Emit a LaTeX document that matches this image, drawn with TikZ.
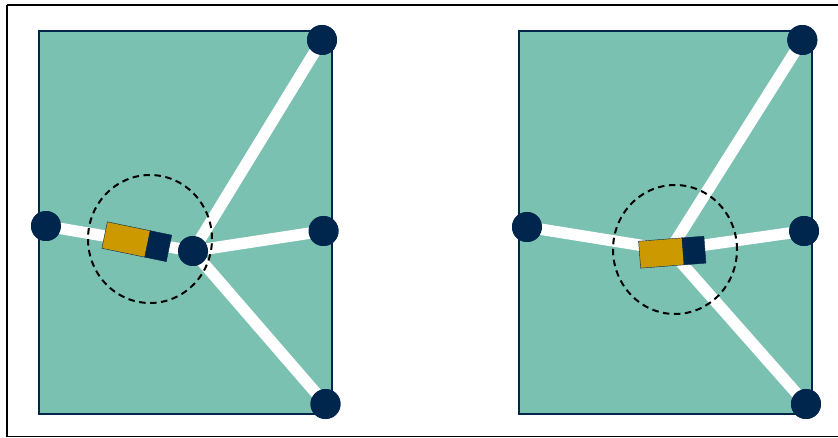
\documentclass[tikz,border=0pt]{standalone}
\usetikzlibrary{calc,shapes.geometric}
\definecolor{tealfill}{HTML}{7AC1B2}
\definecolor{navy}{HTML}{00264D}
\definecolor{gold}{HTML}{CC9900}
\tikzset{
  panel/.style={fill=tealfill, draw=navy, line width=1.3pt},
  beam/.style={draw=white, line width=11.5pt},
  joint/.style={circle, fill=navy, draw=none, minimum size=30pt, inner sep=0pt},
  goldbox/.style={fill=gold, draw=navy, line width=0.4pt, minimum width=44pt, minimum height=27pt, inner sep=0pt},
  navybox/.style={fill=navy, draw=navy, line width=0.4pt, minimum width=22pt, minimum height=27pt, inner sep=0pt},
  zone/.style={draw=black, line width=2pt, dash pattern=on 6.5pt off 4.5pt},
  hub/.style={coordinate}
}
\begin{document}
\begin{tikzpicture}[x=1pt,y=-1pt]
\useasboundingbox (0,0) rectangle (838,438);
\draw[line width=1.5pt] (7,5) -- (840,5);
\draw[line width=1.5pt] (7,5) -- (7,436.5) -- (840,436.5);
% left panel
\draw[panel] (39,31) rectangle (332,414);
\node[joint] (LL) at (46,226) {};
\node[joint] (LTR) at (322,40) {};
\node[joint] (LMR) at (323.5,231) {};
\node[joint] (LBR) at (325.5,404) {};
\node[joint] (LC) at (193,251) {};
\draw[beam] (LL.center) -- (LC.center);
\draw[beam] (LC.center) -- (LTR.center);
\draw[beam] (LC.center) -- (LMR.center);
\draw[beam] (LC.center) -- (LBR.center);
\begin{scope}[shift={(136.7,241.7)}, rotate=-11.7, transform shape]
  \node[goldbox] (LG) at (-10.75,0) {};
  \node[navybox] (LN) at (22,0) {};
\end{scope}
\node[joint] at (LL) {};
\node[joint] at (LTR) {};
\node[joint] at (LMR) {};
\node[joint] at (LBR) {};
\node[joint] at (LC) {};
\node[zone, ellipse, minimum width=124pt, minimum height=128pt, inner sep=0pt] (LZ) at (150,239) {};
% right panel
\draw[panel] (519,31) rectangle (812,414);
\node[joint] (RL) at (527,227) {};
\node[joint] (RTR) at (802.3,40) {};
\node[joint] (RMR) at (804,231) {};
\node[joint] (RBR) at (806,404) {};
\node[hub] (RC) at (670,250) {};
\draw[beam] (RL.center) -- (RC);
\draw[beam] (RC) -- (RTR.center);
\draw[beam] (RC) -- (RMR.center);
\draw[beam] (RC) -- (RBR.center);
\begin{scope}[shift={(672,252.2)}, rotate=4.4, transform shape]
  \node[goldbox] (RG) at (-10.5,0) {};
  \node[navybox] (RN) at (22,0) {};
\end{scope}
\node[joint] at (RL) {};
\node[joint] at (RTR) {};
\node[joint] at (RMR) {};
\node[joint] at (RBR) {};
\node[zone, ellipse, minimum width=124pt, minimum height=129pt, inner sep=0pt] (RZ) at (675,249.5) {};
\end{tikzpicture}
\end{document}
